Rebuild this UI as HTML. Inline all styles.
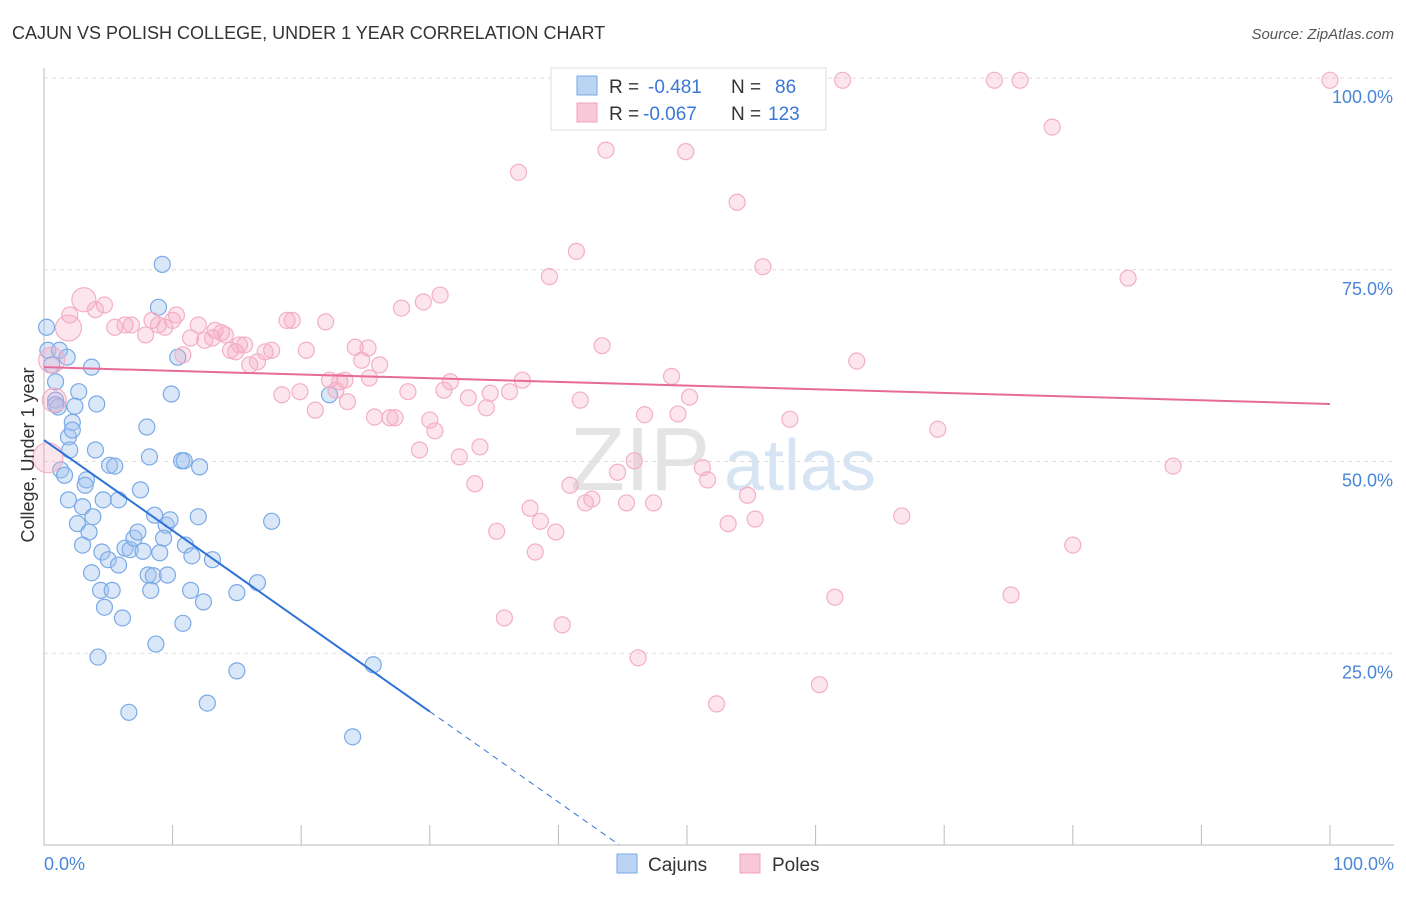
<!DOCTYPE html>
<html><head><meta charset="utf-8"><style>
body{margin:0;background:#fff;font-family:"Liberation Sans",sans-serif}
svg text{font-family:"Liberation Sans",sans-serif}
</style></head><body>
<svg id="c" width="1406" height="892">
<text x="12" y="39" font-size="18" fill="#333">CAJUN VS POLISH COLLEGE, UNDER 1 YEAR CORRELATION CHART</text>
<text x="1394" y="39" font-size="15" fill="#555" text-anchor="end" font-style="italic">Source: ZipAtlas.com</text>
<text x="640" y="490" font-size="90" fill="#e4e4e4" text-anchor="middle" font-family="Liberation Serif">ZIP</text>
<text x="800" y="490" font-size="72" fill="#d6e4f4" text-anchor="middle">atlas</text>
<g id="grid"></g><g id="pts"></g><g id="lines"></g>
<text transform="translate(34,455) rotate(-90)" font-size="18" fill="#333" text-anchor="middle">College, Under 1 year</text>
<text x="44" y="870" font-size="18" fill="#4a86d8">0.0%</text>
<text x="1394" y="870" font-size="18" fill="#4a86d8" text-anchor="end">100.0%</text>
<g>
<rect x="551" y="68" width="275" height="62" fill="#fff" stroke="#ddd"/>
<rect x="577" y="76" width="20" height="19" fill="#bcd4f4" stroke="#7aaae6"/>
<rect x="577" y="103" width="20" height="19" fill="#f9c8d8" stroke="#f0a0bc"/>
<text x="609" y="93" font-size="19" fill="#333">R =</text>
<text x="648" y="93" font-size="19" fill="#3a78d8">-0.481</text>
<text x="731" y="93" font-size="19" fill="#333">N =</text>
<text x="775" y="93" font-size="19" fill="#3a78d8">86</text>
<text x="609" y="120" font-size="19" fill="#333">R =</text>
<text x="643" y="120" font-size="19" fill="#3a78d8">-0.067</text>
<text x="731" y="120" font-size="19" fill="#333">N =</text>
<text x="768" y="120" font-size="19" fill="#3a78d8">123</text>
</g>
<g><rect x="617" y="854" width="20" height="19" fill="#bcd4f4" stroke="#7aaae6"/><text x="648" y="871" font-size="19" fill="#333">Cajuns</text></g>
<g><rect x="740" y="854" width="20" height="19" fill="#f9c8d8" stroke="#f0a0bc"/><text x="772" y="871" font-size="19" fill="#333">Poles</text></g>
</svg>
<script>
const yTicks=[25,50,75,100];
const yTickLabels=["25.0%","50.0%","75.0%","100.0%"];
const xTicks=[0,10,20,30,40,50,60,70,80,90,100];
const cajunX=[0.2,0.3,0.6,1.2,1.8,3.7,0.9,2.7,0.9,1.1,2.4,4.1,2.2,1.9,2.2,2.0,4.0,1.3,1.9,3.3,3.2,5.1,5.5,4.6,5.8,3.0,3.8,2.6,3.5,3.0,4.5,5.0,5.8,3.7,4.4,5.3,4.7,6.1,4.2,6.6,6.3,6.7,7.0,7.3,7.7,8.0,8.2,8.6,9.0,9.5,9.8,9.3,8.1,8.5,9.6,8.3,11.4,8.7,10.8,12.4,9.2,8.9,9.9,10.4,10.7,10.9,12.1,12.0,11.0,11.5,13.1,15.0,16.6,17.7,15.0,12.7,22.2,25.6,24.0,0.9,1.6,7.5];
const cajunY=[67.5,64.5,62.6,64.5,63.6,62.3,60.4,59.1,58.0,57.1,57.2,57.5,55.1,53.2,54.1,51.5,51.5,48.9,45.0,47.6,46.9,49.5,49.4,45.0,45.0,44.1,42.8,41.9,40.8,39.1,38.2,37.2,36.5,35.5,33.2,33.2,31.0,29.6,24.5,17.3,38.7,38.5,40.0,40.8,38.3,54.5,50.6,43.0,38.1,41.7,42.4,40.0,35.2,35.1,35.2,33.2,33.2,26.2,28.9,31.7,75.7,70.1,58.8,63.6,50.1,50.1,49.3,42.8,39.1,37.7,37.2,32.9,34.2,42.2,22.7,18.5,58.7,23.5,14.1,57.4,48.2,46.3];
const poleX=[0.6,1.9,3.1,0.3,0.8,2.0,4.7,4.0,5.5,6.3,6.8,7.9,8.4,8.9,9.4,10.0,10.3,10.8,11.4,12.0,12.5,13.1,13.3,13.8,14.1,14.5,14.9,15.2,15.6,16.0,16.6,17.2,17.7,18.5,18.9,19.3,19.9,20.4,21.1,21.9,22.2,22.7,23.0,23.4,23.6,24.2,24.7,25.2,25.3,26.1,25.7,26.9,27.3,27.8,28.3,29.2,29.5,30.0,30.4,30.8,31.1,31.6,32.3,33.0,33.5,33.9,34.4,34.7,35.2,35.8,36.2,36.9,37.2,37.8,38.2,38.6,39.3,39.8,40.3,40.9,41.4,41.7,42.1,42.6,43.4,43.7,44.6,45.3,45.9,46.2,46.7,47.4,47.9,48.8,49.3,49.9,50.2,51.2,51.6,52.3,53.2,53.9,54.7,55.3,55.9,58.0,60.3,61.5,62.1,63.2,66.7,69.5,73.9,75.2,75.9,78.4,80.0,84.3,87.8,100.0];
const poleY=[63.2,67.4,71.1,50.5,58.0,69.1,70.4,69.8,67.5,67.8,67.8,66.5,68.4,67.8,67.5,68.4,69.1,63.9,66.1,67.8,65.8,66.1,67.1,66.8,66.5,64.5,64.3,65.2,65.2,62.6,63.0,64.3,64.5,58.7,68.4,68.4,59.1,64.5,56.7,68.2,60.6,59.3,60.4,60.6,57.8,64.9,63.2,64.8,60.9,62.6,55.8,55.7,55.7,70.0,59.1,51.5,70.8,55.4,54.0,71.7,59.3,60.4,50.6,58.3,47.1,51.9,57.0,58.9,40.9,29.6,59.1,87.7,60.6,43.9,38.2,42.2,74.1,40.8,28.7,46.9,77.4,58.0,44.6,45.1,65.1,90.6,48.6,44.6,50.1,24.4,56.1,44.6,99.7,61.1,56.2,90.4,58.4,49.2,47.6,18.4,41.9,83.8,45.6,42.5,75.4,55.5,20.9,32.3,99.7,63.1,42.9,54.2,99.7,32.6,99.7,93.6,39.1,73.9,49.4,99.7];
const cajunTrend=[52.8,-1.18];
const poleTrend=[62.3,-0.048];
const X=v=>44+v*12.86, Y=v=>845-v*7.67;
const NS="http://www.w3.org/2000/svg";
function mk(t,a,p){const e=document.createElementNS(NS,t);for(const k in a)e.setAttribute(k,a[k]);p.appendChild(e);return e;}
const g=document.getElementById('grid');
yTicks.forEach((t,i)=>{
 const l=mk('line',{x1:44,x2:1394,y1:Y(t),y2:Y(t),stroke:'#ddd','stroke-dasharray':'4,4'},g);
 
 
 const tx=mk('text',{x:1393,y:Y(t)+25,'font-size':18,fill:'#4a86d8','text-anchor':'end'},g);tx.textContent=yTickLabels[i];
 
 
});
mk('line',{x1:44,x2:44,y1:68,y2:845,stroke:'#bbb'},g);
mk('line',{x1:44,x2:1394,y1:845,y2:845,stroke:'#bbb'},g);
xTicks.forEach(t=>{const l=mk('line',{x1:X(t),x2:X(t),y1:825,y2:845,stroke:'#bbb'},g);
 
 });
const p=document.getElementById('pts');
cajunX.forEach((x,i)=>{const c=mk('circle',{cx:X(x),cy:Y(cajunY[i]),r:8,fill:'rgba(160,196,240,0.4)',stroke:'#7aaae6','stroke-width':1.2},p);
 
 });
const poleR=[13,13,12,15,12];
poleX.forEach((x,i)=>{const r=i<5?poleR[i]:8;const c=mk('circle',{cx:X(x),cy:Y(poleY[i]),r:r,fill:'rgba(244,170,195,0.3)',stroke:'#f3afc6','stroke-width':1.2},p);
 
 });
const L=document.getElementById('lines');
const f=(tr,x)=>tr[0]+tr[1]*x;
const xEnd=-cajunTrend[0]/cajunTrend[1];
let a=mk('line',{x1:X(0),y1:Y(f(cajunTrend,0)),x2:X(30),y2:Y(f(cajunTrend,30)),stroke:'#2f72d8','stroke-width':2},L);


a=mk('line',{x1:X(30),y1:Y(f(cajunTrend,30)),x2:X(xEnd),y2:Y(0),stroke:'#2f72d8','stroke-width':1,'stroke-dasharray':'6,5'},L);


a=mk('line',{x1:X(0),y1:Y(f(poleTrend,0)),x2:X(100),y2:Y(f(poleTrend,100)),stroke:'#e86a98','stroke-width':2},L);


</script>
</body></html>
